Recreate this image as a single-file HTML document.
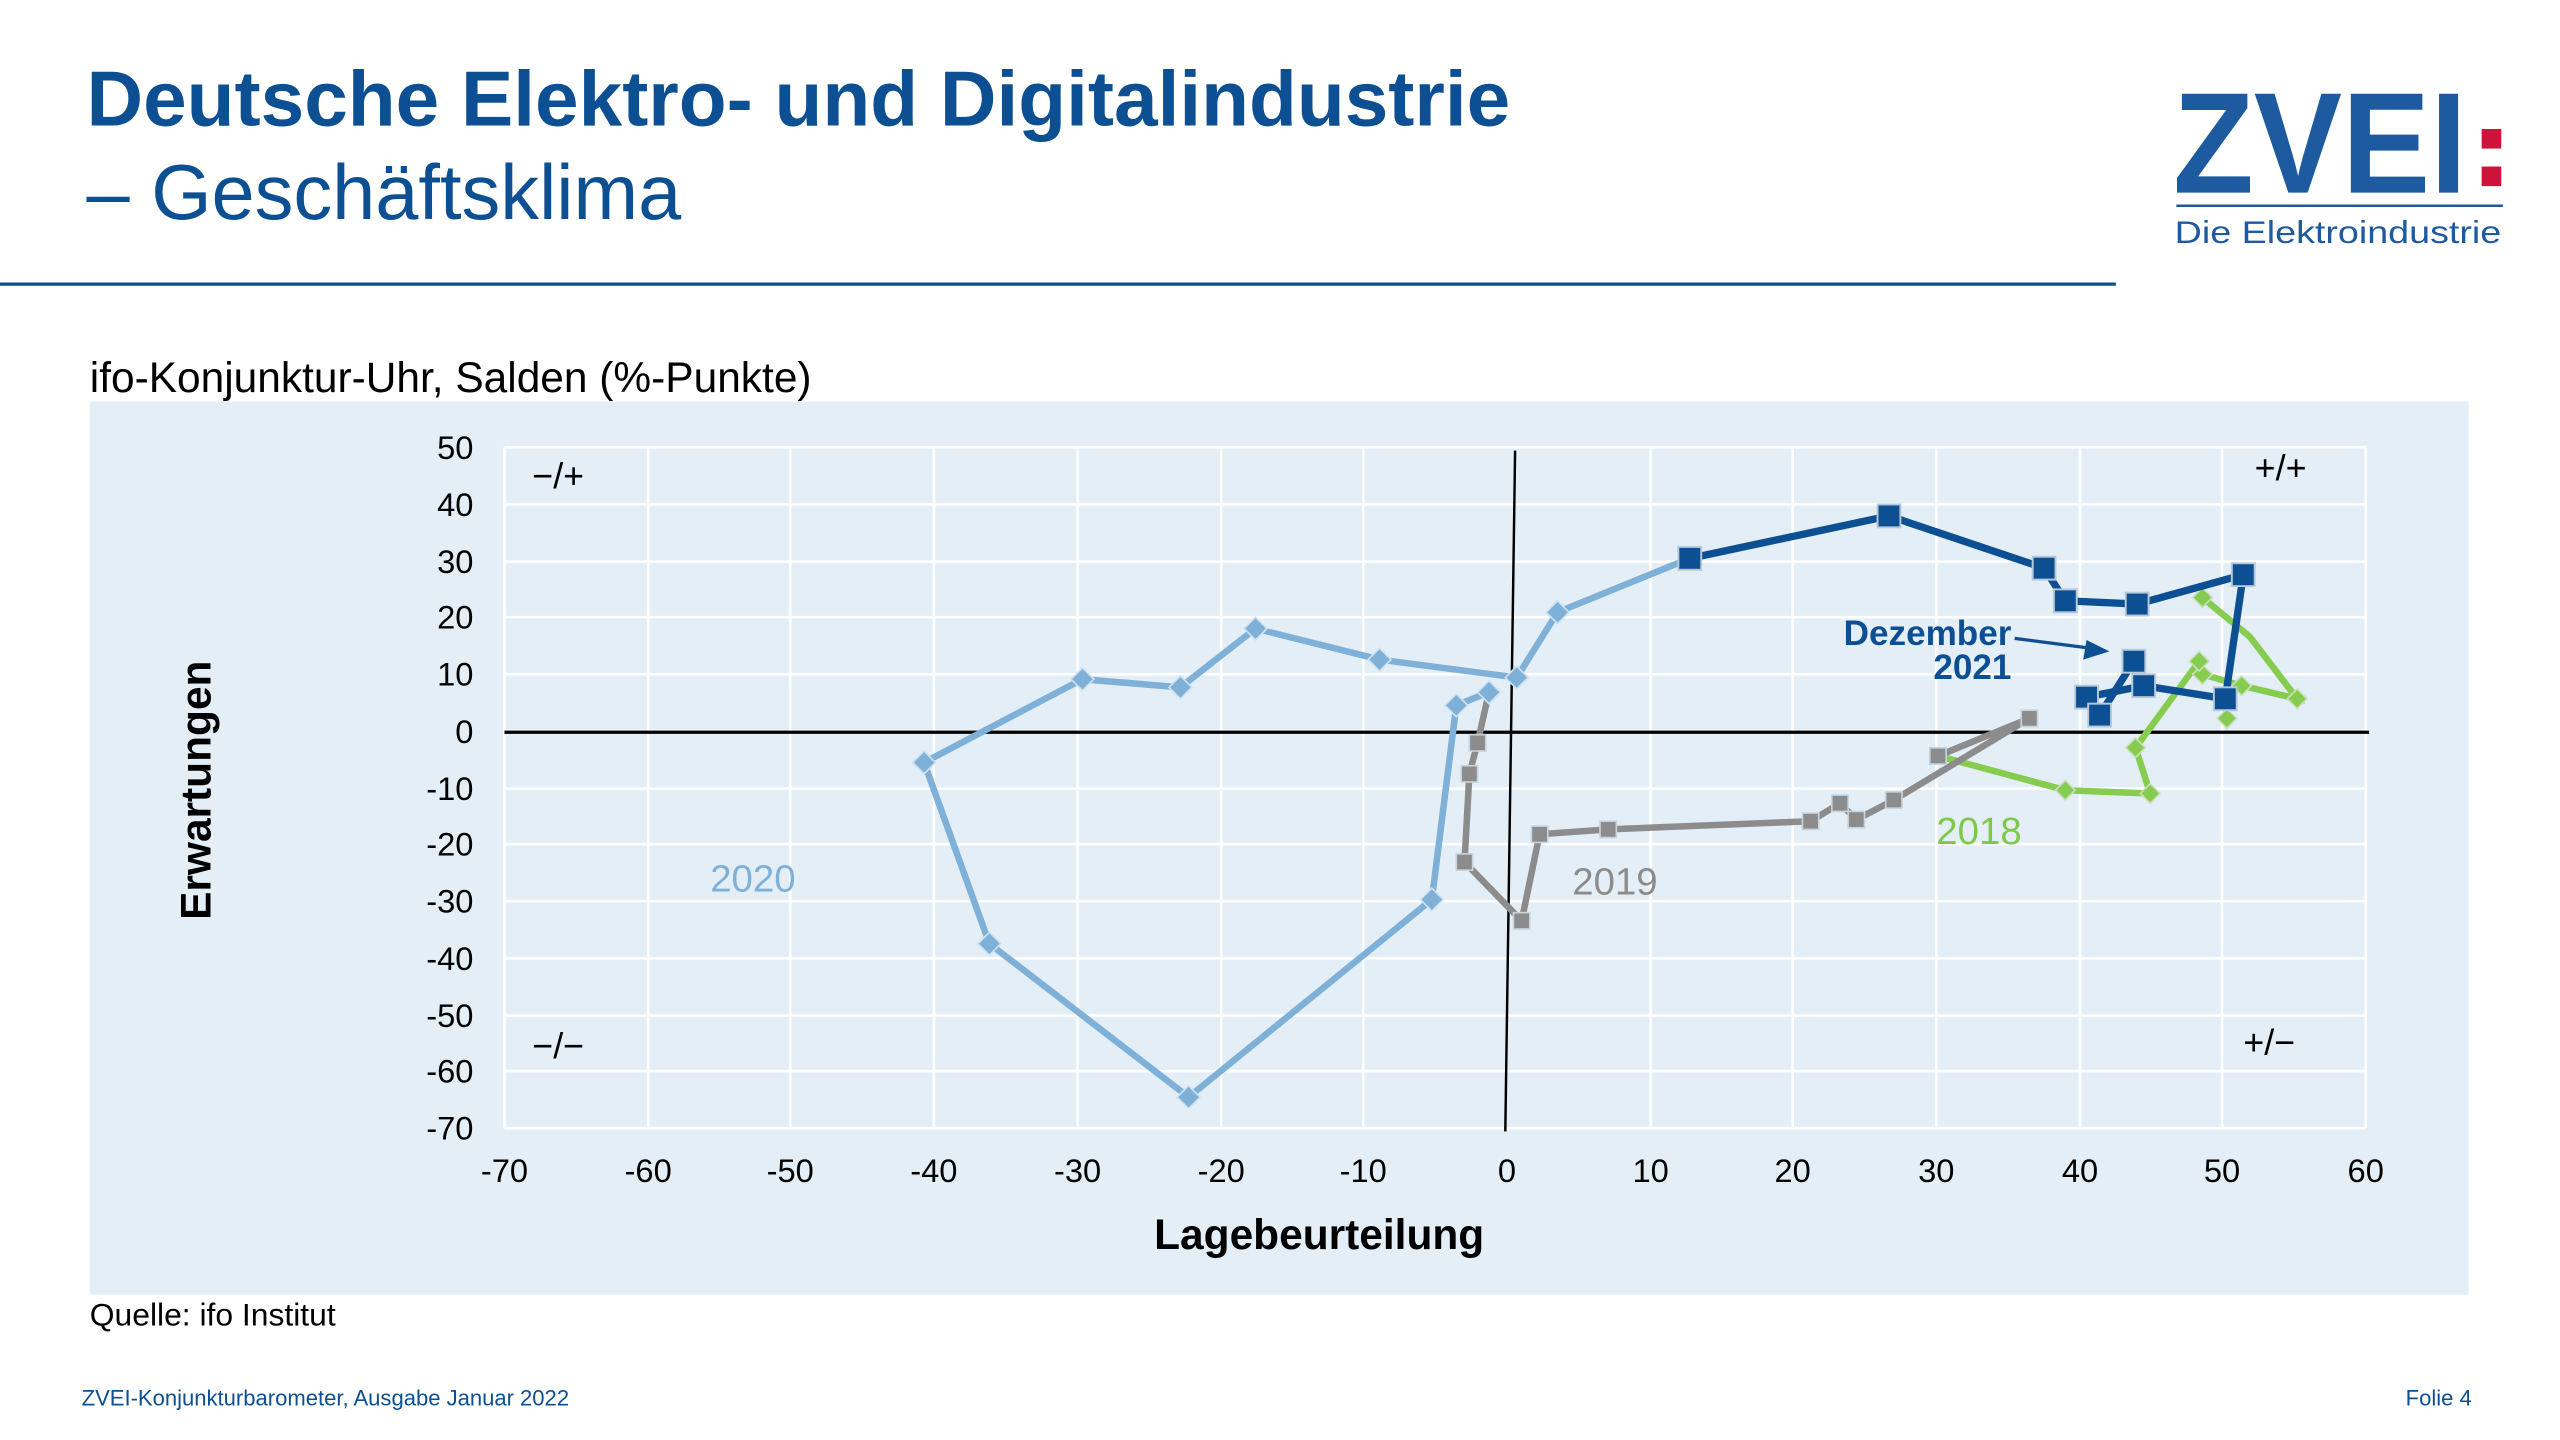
<!DOCTYPE html>
<html><head><meta charset="utf-8"><style>
html,body{margin:0;padding:0;background:#fff;}
svg{display:block}
text{font-family:"Liberation Sans",sans-serif}
</style></head><body>
<svg width="2560" height="1440" viewBox="0 0 1568 882" preserveAspectRatio="none" xmlns="http://www.w3.org/2000/svg">
<text x="53" y="77" font-size="48" font-weight="bold" fill="#0d4f93">Deutsche Elektro- und Digitalindustrie</text>
<text x="53" y="134" font-size="47.5" fill="#0d4f93">– Geschäftsklima</text>
<line x1="0" y1="174" x2="1296" y2="174" stroke="#0d4f93" stroke-width="2"/>
<text x="1331" y="118" font-size="88" font-weight="bold" fill="#1d5aa0" textLength="180" lengthAdjust="spacingAndGlyphs">ZVEI</text>
<rect x="1520" y="79" width="12" height="12" fill="#d0113a"/>
<rect x="1520" y="102" width="12" height="12" fill="#d0113a"/>
<line x1="1333" y1="126" x2="1533" y2="126" stroke="#1d5aa0" stroke-width="1.5"/>
<text x="1332" y="149" font-size="19" fill="#1d5aa0" textLength="200" lengthAdjust="spacingAndGlyphs">Die Elektroindustrie</text>
<text x="55" y="240" font-size="26" fill="#000">ifo-Konjunktur-Uhr, Salden (%-Punkte)</text>
<rect x="55" y="246" width="1457" height="547" fill="#e3eef6"/>
<g stroke="#fff" stroke-width="1.6">
<line x1="397" y1="274" x2="397" y2="691"/><line x1="484" y1="274" x2="484" y2="691"/><line x1="572" y1="274" x2="572" y2="691"/><line x1="660" y1="274" x2="660" y2="691"/><line x1="748" y1="274" x2="748" y2="691"/><line x1="835" y1="274" x2="835" y2="691"/><line x1="1011" y1="274" x2="1011" y2="691"/><line x1="1098" y1="274" x2="1098" y2="691"/><line x1="1186" y1="274" x2="1186" y2="691"/><line x1="1274" y1="274" x2="1274" y2="691"/><line x1="1361" y1="274" x2="1361" y2="691"/><line x1="1449" y1="274" x2="1449" y2="691"/>
<line x1="309" y1="274" x2="1449" y2="274"/><line x1="309" y1="309" x2="1449" y2="309"/><line x1="309" y1="344" x2="1449" y2="344"/><line x1="309" y1="378" x2="1449" y2="378"/><line x1="309" y1="413" x2="1449" y2="413"/><line x1="309" y1="483" x2="1449" y2="483"/><line x1="309" y1="517" x2="1449" y2="517"/><line x1="309" y1="552" x2="1449" y2="552"/><line x1="309" y1="587" x2="1449" y2="587"/><line x1="309" y1="622" x2="1449" y2="622"/><line x1="309" y1="656" x2="1449" y2="656"/><line x1="309" y1="691" x2="1449" y2="691"/>
<line x1="309" y1="274" x2="309" y2="691"/>
</g>
<line x1="309" y1="448.5" x2="1451" y2="448.5" stroke="#000" stroke-width="2"/>
<line x1="928" y1="276" x2="922" y2="693" stroke="#000" stroke-width="1.5"/>
<g font-size="20" fill="#000" text-anchor="end">
<text x="290" y="281">50</text><text x="290" y="316">40</text><text x="290" y="351">30</text><text x="290" y="385">20</text><text x="290" y="420">10</text><text x="290" y="455">0</text><text x="290" y="490">-10</text><text x="290" y="524">-20</text><text x="290" y="559">-30</text><text x="290" y="594">-40</text><text x="290" y="629">-50</text><text x="290" y="663">-60</text><text x="290" y="698">-70</text>
</g>
<g font-size="20" fill="#000" text-anchor="middle">
<text x="309" y="724">-70</text><text x="397" y="724">-60</text><text x="484" y="724">-50</text><text x="572" y="724">-40</text><text x="660" y="724">-30</text><text x="748" y="724">-20</text><text x="835" y="724">-10</text><text x="923" y="724">0</text><text x="1011" y="724">10</text><text x="1098" y="724">20</text><text x="1186" y="724">30</text><text x="1274" y="724">40</text><text x="1361" y="724">50</text><text x="1449" y="724">60</text>
</g>
<text x="808" y="765" font-size="26" font-weight="bold" text-anchor="middle">Lagebeurteilung</text>
<text transform="translate(129,484) rotate(-90)" font-size="26" font-weight="bold" text-anchor="middle">Erwartungen</text>
<g font-size="22" fill="#000">
<text x="326" y="299">−/+</text><text x="1381" y="294">+/+</text><text x="326" y="648">−/−</text><text x="1374" y="646">+/−</text>
</g>
<text x="435" y="546" font-size="23.5" fill="#7fb0d8">2020</text>
<text x="963" y="548" font-size="23.5" fill="#8c8c8c">2019</text>
<text x="1186" y="517" font-size="23.5" fill="#7ec84a">2018</text>
<polyline fill="none" stroke="#86cc4e" stroke-width="4" points="1349,366 1378,390 1407,428 1373,420 1349,413 1347,405 1308,458 1317,486 1265,484 1187,463"/>
<g fill="#86cc4e" stroke="#c9dfc0" stroke-width="1">
<path d="M1349,360 l6,6 -6,6 -6,-6z"/><path d="M1407,422 l6,6 -6,6 -6,-6z"/><path d="M1373,414 l6,6 -6,6 -6,-6z"/><path d="M1349,407 l6,6 -6,6 -6,-6z"/><path d="M1347,399 l6,6 -6,6 -6,-6z"/><path d="M1364,434 l6,6 -6,6 -6,-6z"/><path d="M1308,452 l6,6 -6,6 -6,-6z"/><path d="M1317,480 l6,6 -6,6 -6,-6z"/><path d="M1265,478 l6,6 -6,6 -6,-6z"/>
</g>
<polyline fill="none" stroke="#8c8c8c" stroke-width="4" points="1187,463 1243,440 1160,490 1137,502 1127,492 1109,503 985,508 943,511 932,564 897,528 900,474 905,455 912,424"/>
<g fill="#8c8c8c" stroke="#c7d4de" stroke-width="1">
<rect x="1182" y="458" width="10" height="10"/><rect x="1238" y="435" width="10" height="10"/><rect x="1155" y="485" width="10" height="10"/><rect x="1132" y="497" width="10" height="10"/><rect x="1122" y="487" width="10" height="10"/><rect x="1104" y="498" width="10" height="10"/><rect x="980" y="503" width="10" height="10"/><rect x="938" y="506" width="10" height="10"/><rect x="927" y="559" width="10" height="10"/><rect x="892" y="523" width="10" height="10"/><rect x="895" y="469" width="10" height="10"/><rect x="900" y="450" width="10" height="10"/>
</g>
<polyline fill="none" stroke="#7fb0d8" stroke-width="4" points="912,424 892,432 877,551 728,672 606,578 566,467 663,416 723,421 769,385 845,404 929,415 954,375 1035,342"/>
<g fill="#7fb0d8" stroke="#d0e2f0" stroke-width="1">
<path d="M912,417 l7,7 -7,7 -7,-7z"/><path d="M892,425 l7,7 -7,7 -7,-7z"/><path d="M877,544 l7,7 -7,7 -7,-7z"/><path d="M728,665 l7,7 -7,7 -7,-7z"/><path d="M606,571 l7,7 -7,7 -7,-7z"/><path d="M566,460 l7,7 -7,7 -7,-7z"/><path d="M663,409 l7,7 -7,7 -7,-7z"/><path d="M723,414 l7,7 -7,7 -7,-7z"/><path d="M769,378 l7,7 -7,7 -7,-7z"/><path d="M845,397 l7,7 -7,7 -7,-7z"/><path d="M929,408 l7,7 -7,7 -7,-7z"/><path d="M954,368 l7,7 -7,7 -7,-7z"/>
</g>
<polyline fill="none" stroke="#0d4f93" stroke-width="4.5" points="1035,342 1157,316 1252,348 1265,368 1309,370 1374,352 1363,428 1313,420 1278,427 1286,438 1307,405"/>
<g fill="#0d4f93" stroke="#b7c9d8" stroke-width="1.2">
<rect x="1028" y="335" width="14" height="14"/><rect x="1150" y="309" width="14" height="14"/><rect x="1245" y="341" width="14" height="14"/><rect x="1258" y="361" width="14" height="14"/><rect x="1302" y="363" width="14" height="14"/><rect x="1367" y="345" width="14" height="14"/><rect x="1356" y="421" width="14" height="14"/><rect x="1306" y="413" width="14" height="14"/><rect x="1271" y="420" width="14" height="14"/><rect x="1279" y="431" width="14" height="14"/><rect x="1300" y="398" width="14" height="14"/>
</g>
<text x="1232" y="395" font-size="21.5" font-weight="bold" fill="#0d4f93" text-anchor="end">Dezember</text>
<text x="1232" y="416" font-size="21.5" font-weight="bold" fill="#0d4f93" text-anchor="end">2021</text>
<line x1="1234" y1="391" x2="1280" y2="397" stroke="#0d4f93" stroke-width="2"/>
<path d="M1292,399 l-14,-7 -2,12z" fill="#0d4f93"/>
<text x="55" y="812" font-size="19.5" fill="#000">Quelle: ifo Institut</text>
<text x="50" y="861" font-size="13.5" fill="#0d4f93">ZVEI-Konjunkturbarometer, Ausgabe Januar 2022</text>
<text x="1514" y="861" font-size="13.5" fill="#0d4f93" text-anchor="end">Folie 4</text>
</svg>
</body></html>
